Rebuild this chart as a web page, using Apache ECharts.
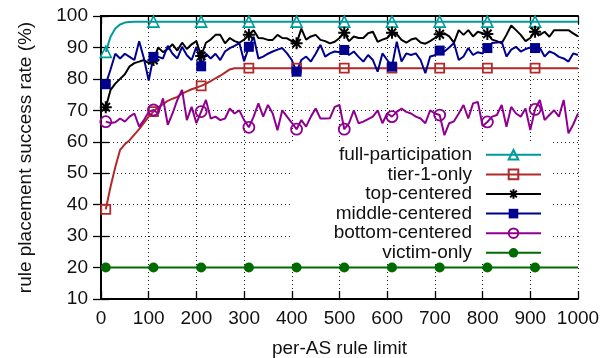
<!DOCTYPE html>
<html>
<head>
<meta charset="utf-8">
<title>rule placement success rate</title>
<script src="https://cdn.jsdelivr.net/npm/echarts@6.0.0/dist/echarts.min.js"></script>
<style>
  html, body { margin: 0; padding: 0; background: #fff; }
  #chart { width: 605px; height: 358px; }
</style>
</head>
<body>
<div id="chart"></div>
<script>
// per-AS rule limit (x values)
var ruleLimits = [
  10, 20, 30, 40, 50, 60, 70, 80, 90, 100,
  110, 120, 130, 140, 150, 160, 170, 180, 190, 200,
  210, 220, 230, 240, 250, 260, 270, 280, 290, 300,
  310, 320, 330, 340, 350, 360, 370, 380, 390, 400,
  410, 420, 430, 440, 450, 460, 470, 480, 490, 500,
  510, 520, 530, 540, 550, 560, 570, 580, 590, 600,
  610, 620, 630, 640, 650, 660, 670, 680, 690, 700,
  710, 720, 730, 740, 750, 760, 770, 780, 790, 800,
  810, 820, 830, 840, 850, 860, 870, 880, 890, 900,
  910, 920, 930, 940, 950, 960, 970, 980, 990, 1000
];

var fullParticipation = [
  88.6, 93.4, 96, 97.3, 97.9, 98.1, 98.2, 98.2, 98.2, 98.2,
  98.2, 98.2, 98.2, 98.2, 98.2, 98.2, 98.2, 98.2, 98.2, 98.2,
  98.2, 98.2, 98.2, 98.2, 98.2, 98.2, 98.2, 98.2, 98.2, 98.2,
  98.2, 98.2, 98.2, 98.2, 98.2, 98.2, 98.2, 98.2, 98.2, 98.2,
  98.2, 98.2, 98.2, 98.2, 98.2, 98.2, 98.2, 98.2, 98.2, 98.2,
  98.2, 98.2, 98.2, 98.2, 98.2, 98.2, 98.2, 98.2, 98.2, 98.2,
  98.2, 98.2, 98.2, 98.2, 98.2, 98.2, 98.2, 98.2, 98.2, 98.2,
  98.2, 98.2, 98.2, 98.2, 98.2, 98.2, 98.2, 98.2, 98.2, 98.2,
  98.2, 98.2, 98.2, 98.2, 98.2, 98.2, 98.2, 98.2, 98.2, 98.2,
  98.2, 98.2, 98.2, 98.2, 98.2, 98.2, 98.2, 98.2, 98.2, 98.2
];

var tier1Only = [
  38.5, 45.7, 52, 57.4, 59.2, 60.5, 62.3, 64, 66, 68,
  69.6, 71, 72, 73, 73.7, 74.3, 75.3, 76, 76.7, 77.2,
  77.8, 78.5, 79.3, 80.2, 81, 82, 83, 83.4, 83.4, 83.4,
  83.4, 83.4, 83.4, 83.4, 83.4, 83.4, 83.4, 83.4, 83.4, 83.4,
  83.4, 83.4, 83.4, 83.4, 83.4, 83.4, 83.4, 83.4, 83.4, 83.4,
  83.4, 83.4, 83.4, 83.4, 83.4, 83.4, 83.4, 83.4, 83.4, 83.4,
  83.4, 83.4, 83.4, 83.4, 83.4, 83.4, 83.4, 83.4, 83.4, 83.4,
  83.4, 83.4, 83.4, 83.4, 83.4, 83.4, 83.4, 83.4, 83.4, 83.4,
  83.4, 83.4, 83.4, 83.4, 83.4, 83.4, 83.4, 83.4, 83.4, 83.4,
  83.4, 83.4, 83.4, 83.4, 83.4, 83.4, 83.4, 83.4, 83.4, 83.4
];

var topCentered = [
  71, 76.5, 78.5, 80, 81.5, 84, 85, 85.5, 86, 85,
  86, 90, 88.5, 89.5, 91, 89, 91.5, 89.5, 91, 92,
  87.3, 91.5, 92.5, 94, 94, 91.3, 93, 92, 91.5, 92.5,
  94, 95.5, 93, 92.9, 92.4, 92.4, 94, 93, 92.9, 92,
  91.3, 96, 92.5, 93.5, 94, 92.4, 92, 91.3, 91.8, 93,
  94.7, 92, 93.5, 93, 93, 94.5, 95, 91.8, 92.5, 93,
  94.7, 94.2, 92.4, 91.5, 92.5, 92.9, 91.6, 91.2, 92, 93,
  94.2, 94.5, 93.5, 91.5, 95.5, 94, 95.5, 93.5, 95, 94.5,
  94.3, 92.5, 92, 91.3, 94, 97, 95.5, 94, 92, 93,
  95, 94, 95, 93.4, 95.5, 95.5, 95.5, 95.5, 94.5, 93.5
];

var middleCentered = [
  78.3, 83, 88, 86.5, 88, 87, 86, 92, 86.5, 79.5,
  87, 87, 86.5, 90.5, 88, 86.5, 90.2, 87.5, 86, 90.2,
  84, 88, 86.5, 88, 86, 88.7, 89.8, 90.5, 91.4, 85.6,
  90.2, 93.4, 86.5, 87.1, 88, 88.7, 89.3, 89.8, 88.1, 86,
  82.3, 86, 87.1, 85.5, 88, 90.8, 87.1, 88.1, 88.7, 88.5,
  89.2, 87.6, 88.7, 87, 85.5, 87.6, 86, 82.3, 88.1, 86,
  83.9, 91.8, 85.5, 88.1, 87.6, 88.1, 86, 81.8, 87.1, 87.5,
  89, 88.7, 90, 91.4, 86, 87.1, 89.8, 87.6, 88.5, 88.1,
  89.8, 91.4, 91.6, 91.8, 87.1, 89.3, 90.2, 88.7, 89.5, 90,
  89.8, 89.8, 87.1, 88.7, 88.1, 87, 86.5, 85.5, 88.1, 87.6
];

var bottomCentered = [
  66.4, 66, 66.2, 67.4, 66.4, 68, 69, 64.8, 66.9, 69.5,
  70.1, 69, 73.8, 65.4, 69, 73.3, 76.5, 66.9, 71.1, 65.9,
  69.6, 73.3, 67.4, 68, 66.9, 67.4, 70.6, 69, 70, 66.9,
  64.6, 68, 72.2, 68, 71.7, 69, 63.7, 70, 68, 66,
  64, 66.9, 64.8, 68, 70.6, 67.4, 67.4, 67.5, 71.1, 71.7,
  64, 65.9, 70, 65.9, 66.4, 67.2, 68, 70, 65.9, 69,
  68, 69.5, 70.6, 69.5, 69, 68, 67.4, 65.9, 70, 69,
  68.5, 62.1, 65.9, 66.5, 69, 71.7, 67.4, 72.2, 72.7, 65,
  66.3, 68, 68.5, 71.7, 64.8, 71.1, 69, 68, 70.6, 63.7,
  70.3, 73.3, 66.9, 68.5, 70, 68, 73.3, 62.7, 65.5, 69
];

var victimOnly = [
  20, 20, 20, 20, 20, 20, 20, 20, 20, 20,
  20, 20, 20, 20, 20, 20, 20, 20, 20, 20,
  20, 20, 20, 20, 20, 20, 20, 20, 20, 20,
  20, 20, 20, 20, 20, 20, 20, 20, 20, 20,
  20, 20, 20, 20, 20, 20, 20, 20, 20, 20,
  20, 20, 20, 20, 20, 20, 20, 20, 20, 20,
  20, 20, 20, 20, 20, 20, 20, 20, 20, 20,
  20, 20, 20, 20, 20, 20, 20, 20, 20, 20,
  20, 20, 20, 20, 20, 20, 20, 20, 20, 20,
  20, 20, 20, 20, 20, 20, 20, 20, 20, 20
];

var xTicks = [0, 100, 200, 300, 400, 500, 600, 700, 800, 900, 1000];
var yTicks = [10, 20, 30, 40, 50, 60, 70, 80, 90, 100];

var fontName = '"Liberation Sans", Arial, Helvetica, sans-serif';
var starPath = 'path://M5,0L5,10M0,5L10,5M1.5,1.5L8.5,8.5M1.5,8.5L8.5,1.5';

// marker on every 10th point, like gnuplot pointinterval
function toPoints(values) {
  var out = [];
  for (var i = 0; i < values.length; i++) {
    var item = { value: [ruleLimits[i], values[i]] };
    if (i % 10 !== 0) item.symbol = 'none';
    out.push(item);
  }
  return out;
}

function makeSeries(name, values, color, symbol, size, hollow, bw) {
  return {
    name: name,
    type: 'line',
    xAxisIndex: 0,
    yAxisIndex: 0,
    z: 6,
    data: toPoints(values),
    symbol: symbol,
    symbolSize: size,
    showAllSymbol: true,
    animation: false,
    lineStyle: { color: color, width: 2 },
    itemStyle: {
      color: hollow ? 'transparent' : color,
      borderColor: color,
      borderWidth: hollow ? bw : 0
    },
    emphasis: { disabled: true }
  };
}

var myChart = echarts.init(document.getElementById('chart'), null, { renderer: 'canvas' });

var axisLine = { show: true, lineStyle: { color: '#000', width: 2 } };
var axisTick = { show: true, inside: true, length: 8, lineStyle: { color: '#000', width: 1.3 } };
var gridLine = { show: true, lineStyle: { color: '#222', width: 1, type: [1, 3] } };

myChart.setOption({
  backgroundColor: '#fff',
  animation: false,
  textStyle: { fontFamily: fontName },
  grid: { left: 101, right: 27, top: 16, bottom: 59, outerBoundsMode: 'none', containLabel: false },
  legend: {
    orient: 'vertical',
    align: 'right',
    right: 52,
    top: 142,
    z: 4,
    padding: [3, 11, 0, 42],
    backgroundColor: '#fff',
    itemWidth: 55,
    itemHeight: 12,
    itemGap: 0,
    selectedMode: false,
    textStyle: {
      fontFamily: fontName,
      fontSize: 19,
      color: '#111',
      lineHeight: 19.6,
      padding: [0, 9, 0, 0]
    },
    data: ['full-participation', 'tier-1-only', 'top-centered',
           'middle-centered', 'bottom-centered', 'victim-only']
  },
  xAxis: [{
    type: 'value',
    min: xTicks[0],
    max: xTicks[xTicks.length - 1],
    interval: 100,
    name: 'per-AS rule limit',
    nameLocation: 'middle',
    nameGap: 40,
    nameTextStyle: { fontFamily: fontName, fontSize: 19, color: '#111' },
    axisLine: axisLine,
    axisTick: axisTick,
    splitLine: gridLine,
    axisLabel: {
      fontFamily: fontName, fontSize: 19, color: '#111', margin: 10,
      formatter: function (v) { return String(v); }
    }
  }, {
    type: 'value',
    position: 'top',
    min: xTicks[0],
    max: xTicks[xTicks.length - 1],
    interval: 100,
    axisLine: axisLine,
    axisTick: axisTick,
    splitLine: { show: false },
    axisLabel: { show: false }
  }],
  yAxis: [{
    type: 'value',
    min: yTicks[0],
    max: yTicks[yTicks.length - 1],
    interval: 10,
    name: 'rule placement success rate (%)',
    nameLocation: 'middle',
    nameGap: 66,
    nameTextStyle: { fontFamily: fontName, fontSize: 19, color: '#111' },
    axisLine: axisLine,
    axisTick: axisTick,
    splitLine: gridLine,
    axisLabel: { fontFamily: fontName, fontSize: 19, color: '#111', margin: 13 }
  }, {
    type: 'value',
    position: 'right',
    min: yTicks[0],
    max: yTicks[yTicks.length - 1],
    interval: 10,
    axisLine: axisLine,
    axisTick: axisTick,
    splitLine: { show: false },
    axisLabel: { show: false }
  }],
  series: [
    makeSeries('full-participation', fullParticipation, '#009a9a', 'triangle', 11, true, 1.6),
    makeSeries('tier-1-only', tier1Only, '#b02a2a', 'rect', 9, true, 1.8),
    makeSeries('top-centered', topCentered, '#000000', starPath, 12, true, 2),
    makeSeries('middle-centered', middleCentered, '#00008f', 'rect', 10, false, 0),
    makeSeries('bottom-centered', bottomCentered, '#900090', 'circle', 11, true, 1.8),
    makeSeries('victim-only', victimOnly, '#006b00', 'circle', 10, false, 0)
  ]
});
</script>
</body>
</html>
